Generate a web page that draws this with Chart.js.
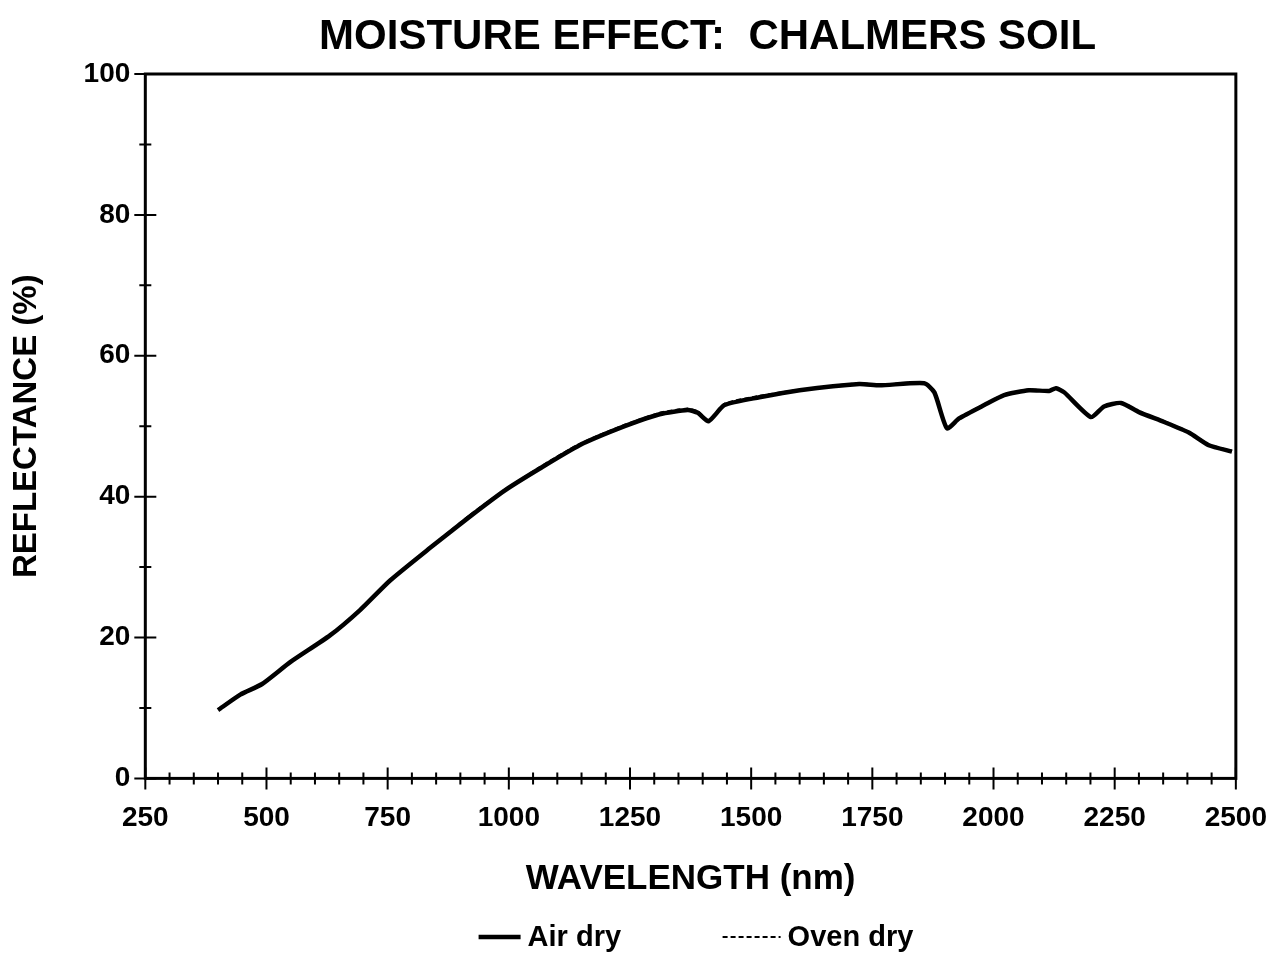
<!DOCTYPE html>
<html>
<head>
<meta charset="utf-8">
<script src="https://cdn.jsdelivr.net/npm/chart.js@4/dist/chart.umd.min.js"></script>
<style>
  html, body { margin: 0; padding: 0; background: #fff; }
</style>
</head>
<body>
<canvas id="chart" width="1270" height="954"></canvas>
<script>
// wavelength (nm) and reflectance (%)
const wavelength = [400, 446, 491, 549, 631, 693, 755, 837, 920, 992, 1064, 1146, 1239, 1311, 1369,
    1390, 1412, 1445, 1517, 1600, 1723, 1765, 1857, 1878, 1904, 1929, 1981, 2022, 2073, 2115,
    2129, 2146, 2201, 2228, 2263, 2300, 2352, 2403, 2444, 2492];
const airDry = [9.7, 11.9, 13.4, 16.5, 20.3, 23.9, 28.1, 32.7, 37.2, 40.9, 44.0, 47.3, 50.0, 51.7, 52.3,
    51.9, 50.7, 53.0, 54.1, 55.1, 56.0, 55.8, 56.1, 54.8, 49.7, 51.1, 53.0, 54.4, 55.1, 55.0,
    55.4, 54.8, 51.3, 52.8, 53.3, 52.0, 50.6, 49.1, 47.3, 46.4];
const ovenDry = [9.8, 12.0, 13.5, 16.6, 20.4, 24.0, 28.2, 32.8, 37.4, 41.0, 44.2, 47.5, 50.2, 51.9, 52.5,
    52.1, 50.9, 53.2, 54.3, 55.2, 56.1, 55.9, 56.2, 54.9, 49.8, 51.2, 53.1, 54.5, 55.2, 55.1,
    55.5, 54.9, 51.4, 52.9, 53.4, 52.1, 50.7, 49.2, 47.4, 46.5];

const xTicks = [250, 500, 750, 1000, 1250, 1500, 1750, 2000, 2250, 2500];
const yTicks = [0, 20, 40, 60, 80, 100];

const FONT = '"Liberation Sans", Arial, sans-serif';

function toPoints(ys) {
    return wavelength.map((w, i) => ({ x: w, y: ys[i] }));
}

// frame, crossing tick marks, title and legend
const framePlugin = {
    id: 'frame',
    afterDraw(chart) {
        const { ctx, chartArea: a, scales } = chart;
        const xs = scales.x, ys = scales.y;
        ctx.save();
        ctx.strokeStyle = '#000';
        ctx.lineWidth = 3;
        ctx.strokeRect(a.left, a.top, a.right - a.left, a.bottom - a.top);
        ctx.lineWidth = 2;
        ctx.beginPath();
        for (let v = 250; v <= 2500; v += 50) {
            const px = xs.getPixelForValue(v);
            const h = (v % 250 === 0) ? 11 : 6;
            ctx.moveTo(px, a.bottom - h);
            ctx.lineTo(px, a.bottom + h);
        }
        for (let v = 0; v <= 100; v += 10) {
            const py = ys.getPixelForValue(v);
            const w = (v % 20 === 0) ? 11 : 6;
            ctx.moveTo(a.left - w, py);
            ctx.lineTo(a.left + w, py);
        }
        ctx.stroke();

        // title
        const cx = (a.left + a.right) / 2;
        ctx.fillStyle = '#000';
        ctx.textAlign = 'center';
        ctx.textBaseline = 'middle';
        ctx.font = 'bold 42px ' + FONT;
        ctx.fillText('MOISTURE EFFECT:  CHALMERS SOIL', cx + 17, 37);

        // legend
        ctx.font = 'bold 29px ' + FONT;
        ctx.textAlign = 'left';
        const ly = 937;
        const items = [
            { x: cx - 212, len: 42 },
            { x: cx + 32, len: 58 }
        ];
        chart.data.datasets.forEach((ds, i) => {
            const it = items[i];
            ctx.beginPath();
            ctx.lineWidth = ds.borderWidth;
            ctx.setLineDash(ds.borderDash || []);
            ctx.moveTo(it.x, ly);
            ctx.lineTo(it.x + it.len, ly);
            ctx.stroke();
            ctx.setLineDash([]);
            ctx.fillText(ds.label, it.x + it.len + 7, ly + 1);
        });
        ctx.restore();
    }
};

new Chart(document.getElementById('chart'), {
    type: 'line',
    data: {
        datasets: [
            {
                label: 'Air dry',
                data: toPoints(airDry),
                borderColor: '#000',
                backgroundColor: '#000',
                borderWidth: 4.5,
                pointRadius: 0,
                tension: 0.2
            },
            {
                label: 'Oven dry',
                data: toPoints(ovenDry),
                borderColor: '#000',
                backgroundColor: '#000',
                borderWidth: 2,
                borderDash: [5, 3],
                pointRadius: 0,
                tension: 0.2
            }
        ]
    },
    options: {
        responsive: false,
        animation: false,
        layout: { padding: { left: 7, right: 0, top: 74, bottom: 54 } },
        plugins: {
            title: { display: false },
            legend: { display: false },
            tooltip: { enabled: false }
        },
        scales: {
            x: {
                type: 'linear',
                min: 250,
                max: 2500,
                afterBuildTicks: (scale) => { scale.ticks = xTicks.map(v => ({ value: v })); },
                grid: {
                    display: true,
                    color: 'rgba(0,0,0,0)',
                    drawOnChartArea: false,
                    drawTicks: true,
                    tickLength: 20
                },
                border: { display: false },
                ticks: {
                    color: '#000',
                    font: { family: FONT, size: 28, weight: 'bold' },
                    padding: 3,
                    maxRotation: 0,
                    callback: (v) => String(v)
                },
                title: {
                    display: true,
                    text: 'WAVELENGTH (nm)',
                    color: '#000',
                    font: { family: FONT, size: 35, weight: 'bold' },
                    padding: { top: 20, bottom: 0 }
                }
            },
            y: {
                min: 0,
                max: 100,
                afterBuildTicks: (scale) => { scale.ticks = yTicks.map(v => ({ value: v })); },
                grid: { display: false, drawTicks: false },
                border: { display: false },
                ticks: {
                    color: '#000',
                    font: { family: FONT, size: 28, weight: 'bold' },
                    padding: 15,
                    callback: (v) => String(v)
                },
                title: {
                    display: true,
                    text: 'REFLECTANCE (%)',
                    color: '#000',
                    font: { family: FONT, size: 33, weight: 'bold' },
                    padding: { top: 0, bottom: 22 }
                }
            }
        }
    },
    plugins: [framePlugin]
});
</script>
</body>
</html>
